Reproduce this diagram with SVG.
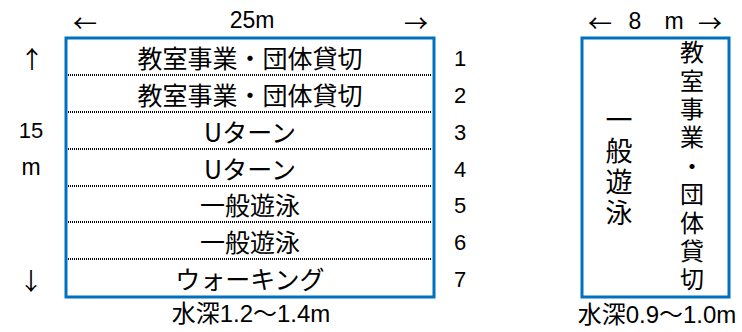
<svg xmlns="http://www.w3.org/2000/svg" width="742" height="332" viewBox="0 0 742 332">
<style>
.pool{fill:#fff;stroke:#0070C0;stroke-width:3}
.div{stroke:#000;stroke-width:2;stroke-dasharray:1 1;fill:none}
text{font-family:"Liberation Sans","Noto Sans CJK JP",sans-serif;fill:#000}
.jp{font-family:"Noto Sans CJK JP","Liberation Sans",sans-serif;font-size:25px;text-anchor:middle;dominant-baseline:central}
.num{font-size:22px;text-anchor:middle;dominant-baseline:central}
.arr{font-family:"Noto Sans CJK JP",sans-serif;font-size:24px;text-anchor:middle;dominant-baseline:central}
.lbl{font-size:23px;text-anchor:middle}
.depth{font-size:24px;text-anchor:middle}
.v1{font-family:"Noto Sans CJK JP",sans-serif;font-size:27px;writing-mode:vertical-rl;letter-spacing:4px}
.v2{font-family:"Noto Sans CJK JP",sans-serif;font-size:24px;writing-mode:vertical-rl;letter-spacing:4.4px}
</style>
<rect width="742" height="332" fill="#fff"/>
<g id="pool25">
<rect class="pool" x="66" y="38" width="368" height="259"/>
</g>
<g id="connectors">
<line class="div" x1="68" y1="75" x2="432" y2="75"/>
<line class="div" x1="68" y1="112" x2="432" y2="112"/>
<line class="div" x1="68" y1="149" x2="432" y2="149"/>
<line class="div" x1="68" y1="186" x2="432" y2="186"/>
<line class="div" x1="68" y1="222" x2="432" y2="222"/>
<line class="div" x1="68" y1="259" x2="432" y2="259"/>
<line class="div" x1="655" y1="40" x2="655" y2="295"/>
</g>
<g id="lane1"><text class="jp" x="250" y="57">教室事業・団体貸切</text><text class="num" x="460" y="58">1</text></g>
<g id="lane2"><text class="jp" x="250" y="94">教室事業・団体貸切</text><text class="num" x="460" y="95">2</text></g>
<g id="lane3"><text class="jp" x="250" y="131">Uターン</text><text class="num" x="460" y="132">3</text></g>
<g id="lane4"><text class="jp" x="250" y="168">Uターン</text><text class="num" x="460" y="169">4</text></g>
<g id="lane5"><text class="jp" x="250" y="204">一般遊泳</text><text class="num" x="460" y="205">5</text></g>
<g id="lane6"><text class="jp" x="250" y="241">一般遊泳</text><text class="num" x="460" y="242">6</text></g>
<g id="lane7"><text class="jp" x="250" y="278">ウォーキング</text><text class="num" x="460" y="279">7</text></g>
<g id="dims25">
<text class="arr" x="85" y="21">←</text>
<text class="lbl" x="252" y="28">25m</text>
<text class="arr" x="416" y="21">→</text>
<text class="arr" x="32" y="57">↑</text>
<text class="num" x="31" y="130">15</text>
<text class="lbl" x="31" y="175">m</text>
<text class="arr" x="31" y="279">↓</text>
<text class="depth" x="251" y="322">水深1.2〜1.4m</text>
</g>
<g id="pool8">
<rect class="pool" x="582" y="38" width="147" height="259"/>
</g>
<g id="pool8lane1">
<text class="v1" x="619" y="106.5">一般遊泳</text>
</g>
<g id="pool8lane2">
<text class="v2" x="692" y="40">教室事業・団体貸切</text>
</g>
<g id="dims8">
<text class="arr" x="600" y="21">←</text>
<text class="lbl" x="635" y="29">8</text>
<text class="lbl" x="674" y="29">m</text>
<text class="arr" x="710" y="21">→</text>
<text class="depth" x="657" y="323">水深0.9〜1.0m</text>
</g>
</svg>
